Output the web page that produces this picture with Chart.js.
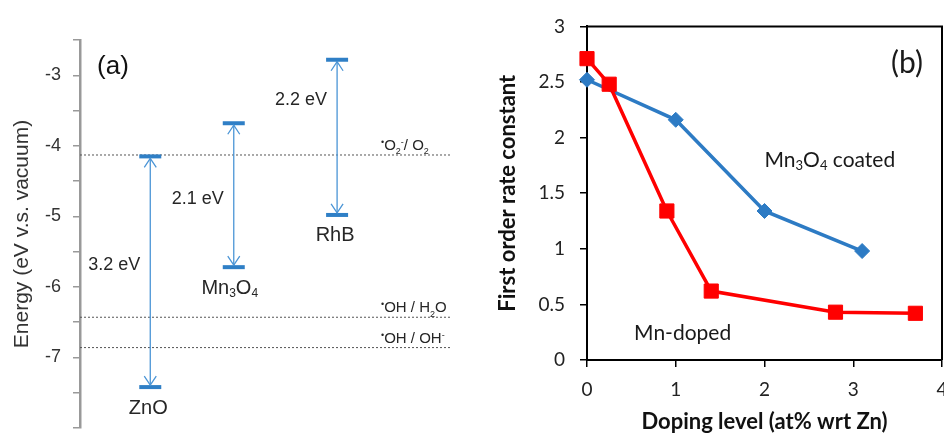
<!DOCTYPE html>
<html lang="en">
<head>
    <meta charset="UTF-8">
    <title>Band positions and rate constants</title>
    <script src="https://cdn.jsdelivr.net/npm/chart.js"></script>
    <style>
        body { margin: 0; background: #fff; }
        .wrap { position: relative; width: 944px; height: 435px; background: #fff; }
        #chartA { position: absolute; left: 0; top: 0; }
        #chartB { position: absolute; left: 480px; top: 0; }
    </style>
</head>
<body>
<div class="wrap">
    <canvas id="chartA" width="480" height="435"></canvas>
    <canvas id="chartB" width="464" height="435"></canvas>
</div>
<script>
    // ---- panel (a): band edges, eV vs vacuum ----
    const materialNames = ['ZnO', 'Mn3O4', 'RhB'];
    const materialText = [[['ZnO', 'n']], [['Mn', 'n'], ['3', 'sub'], ['O', 'n'], ['4', 'sub']], [['RhB', 'n']]];
    const materialPos = [0.85, 1.86, 3.11];
    const upperEdge = [-4.15, -3.68, -2.78];
    const lowerEdge = [-7.42, -5.72, -4.98];
    const gapLabels = ['3.2 eV', '2.1 eV', '2.2 eV'];
    const redoxLevels = [-4.13, -6.43, -6.86];
    const redoxLabels = [
        [['•', 'sup'], ['O', 'n'], ['2', 'sub'], ['-', 'sup'], ['/ O', 'n'], ['2', 'sub']],
        [['•', 'sup'], ['OH / H', 'n'], ['2', 'sub'], ['O', 'n']],
        [['•', 'sup'], ['OH / OH', 'n'], ['-', 'sup']]
    ];
    const energyTicks = [-3, -4, -5, -6, -7];

    // ---- panel (b): rate constant vs doping ----
    const coatedX = [0, 1, 2, 3.1];
    const coatedK = [2.52, 2.16, 1.34, 0.98];
    const dopedX = [0, 0.25, 0.9, 1.4, 2.8, 3.7];
    const dopedK = [2.71, 2.48, 1.34, 0.62, 0.43, 0.42];

    const fontA = '"Liberation Sans", Arial, sans-serif';
    const fontB = 'Lato, "Open Sans", sans-serif';
    const barColor = '#2f7fc6';
    const arrowColor = '#4b95d6';
    const xMinA = 0, xMaxA = 4.5;

    // text with sub/superscript pieces
    function drawRich(ctx, parts, x, y, size, align, family) {
        const small = Math.round(size * 0.62);
        let w = 0;
        parts.forEach(([t, m]) => {
            ctx.font = (m === 'n' ? size : small) + 'px ' + family;
            w += ctx.measureText(t).width;
        });
        let cx = align === 'center' ? x - w / 2 : (align === 'right' ? x - w : x);
        ctx.textAlign = 'left';
        parts.forEach(([t, m]) => {
            const s = m === 'n' ? size : small;
            ctx.font = s + 'px ' + family;
            const dy = m === 'sub' ? size * 0.3 : (m === 'sup' ? -size * 0.33 : 0);
            ctx.fillText(t, cx, y + dy);
            cx += ctx.measureText(t).width;
        });
    }

    const bandDatasets = materialPos.map((p, i) => ({
        label: materialNames[i],
        data: [{x: p, y: upperEdge[i]}, {x: p, y: lowerEdge[i]}],
        showLine: true,
        borderColor: arrowColor,
        borderWidth: 1.3,
        pointStyle: 'line',
        pointRadius: 11,
        pointBorderWidth: 4,
        pointBorderColor: barColor,
        clip: false
    }));
    const redoxDatasets = redoxLevels.map(lv => ({
        data: [{x: xMinA, y: lv}, {x: xMaxA, y: lv}],
        showLine: true,
        borderColor: '#555',
        borderWidth: 1,
        borderDash: [2, 2],
        pointRadius: 0
    }));

    const panelA = {
        id: 'panelA',
        afterDatasetsDraw(chart) {
            const ctx = chart.ctx;
            const xs = chart.scales.x, ys = chart.scales.y;
            const area = chart.chartArea;
            ctx.save();
            // arrow heads
            ctx.strokeStyle = arrowColor;
            ctx.lineWidth = 1.3;
            materialPos.forEach((p, i) => {
                const x = xs.getPixelForValue(p);
                const yt = ys.getPixelForValue(upperEdge[i]) + 2;
                const yb = ys.getPixelForValue(lowerEdge[i]) - 2;
                ctx.beginPath();
                ctx.moveTo(x - 6, yt + 9); ctx.lineTo(x, yt); ctx.lineTo(x + 6, yt + 9);
                ctx.moveTo(x - 6, yb - 9); ctx.lineTo(x, yb); ctx.lineTo(x + 6, yb - 9);
                ctx.stroke();
            });
            ctx.fillStyle = '#262626';
            ctx.textBaseline = 'middle';
            // material names
            materialPos.forEach((p, i) => {
                const x = xs.getPixelForValue(p);
                const y = ys.getPixelForValue(lowerEdge[i]) + 21;
                drawRich(ctx, materialText[i], i === 1 ? x - 4 : x - 2, y, 20, 'center', fontA);
            });
            // gap labels
            const gapAt = [0.47, 0.53, 0.26];
            materialPos.forEach((p, i) => {
                const x = xs.getPixelForValue(p);
                const yt = ys.getPixelForValue(upperEdge[i]);
                const yb = ys.getPixelForValue(lowerEdge[i]);
                ctx.font = '18px ' + fontA;
                ctx.textAlign = 'right';
                ctx.fillText(gapLabels[i], x - 10, yt + gapAt[i] * (yb - yt));
            });
            // redox couples
            ctx.textBaseline = 'alphabetic';
            redoxLevels.forEach((lv, i) => {
                const y = ys.getPixelForValue(lv) - 5;
                drawRich(ctx, redoxLabels[i], area.right - 71, y, 15, 'left', fontA);
            });
            // panel letter
            ctx.textBaseline = 'middle';
            ctx.textAlign = 'center';
            ctx.font = '26px ' + fontA;
            ctx.fillStyle = '#111';
            ctx.fillText('(a)', area.left + 33, 67);
            ctx.restore();
        }
    };

    new Chart(document.getElementById('chartA'), {
        type: 'scatter',
        data: {datasets: [...bandDatasets, ...redoxDatasets]},
        options: {
            responsive: false,
            animation: false,
            devicePixelRatio: 1,
            layout: {autoPadding: false, padding: {top: 40, right: 28, bottom: 7, left: 0}},
            plugins: {legend: {display: false}, tooltip: {enabled: false}},
            scales: {
                x: {type: 'linear', min: xMinA, max: xMaxA, display: false},
                y: {
                    min: -8, max: -2.5,
                    afterFit: s => { s.width = 80; s.paddingTop = 0; s.paddingBottom = 0; },
                    ticks: {
                        stepSize: 0.5,
                        autoSkip: false,
                        padding: 12,
                        color: '#333',
                        font: {family: fontA, size: 18},
                        callback: v => energyTicks.includes(v) ? String(v) : ''
                    },
                    grid: {drawOnChartArea: false, tickLength: 7, color: '#999', lineWidth: 1.5},
                    border: {display: true, color: '#999', width: 2.5},
                    title: {
                        display: true,
                        text: 'Energy (eV v.s. vacuum)',
                        color: '#333',
                        font: {family: fontA, size: 21},
                        padding: {top: 10, bottom: 0}
                    }
                }
            }
        },
        plugins: [panelA]
    });

    const panelB = {
        id: 'panelB',
        afterDatasetsDraw(chart) {
            const ctx = chart.ctx;
            const xs = chart.scales.x, ys = chart.scales.y;
            const a = chart.chartArea;
            ctx.save();
            ctx.strokeStyle = '#000';
            ctx.lineWidth = 2;
            ctx.beginPath();
            ctx.moveTo(a.left, a.top); ctx.lineTo(a.right, a.top); ctx.lineTo(a.right, a.bottom);
            ctx.stroke();
            ctx.fillStyle = '#1a1a1a';
            ctx.textBaseline = 'middle';
            drawRich(ctx, [['Mn', 'n'], ['3', 'sub'], ['O', 'n'], ['4', 'sub'], [' coated', 'n']],
                xs.getPixelForValue(2.0), ys.getPixelForValue(1.8), 21, 'left', fontB);
            drawRich(ctx, [['Mn-doped', 'n']], xs.getPixelForValue(0.53), ys.getPixelForValue(0.24), 21, 'left', fontB);
            ctx.textAlign = 'center';
            ctx.font = '30px ' + fontB;
            ctx.fillText('(b)', a.right - 35, a.top + 37);
            ctx.restore();
        }
    };

    new Chart(document.getElementById('chartB'), {
        type: 'scatter',
        data: {
            datasets: [
                {
                    label: 'Mn-doped',
                    data: dopedX.map((x, i) => ({x: x, y: dopedK[i]})),
                    showLine: true,
                    borderColor: '#ff0000',
                    backgroundColor: '#ff0000',
                    borderWidth: 3.5,
                    pointStyle: 'rect',
                    pointRadius: 10,
                    pointBorderWidth: 1,
                    clip: false
                },
                {
                    label: 'Mn3O4 coated',
                    data: coatedX.map((x, i) => ({x: x, y: coatedK[i]})),
                    showLine: true,
                    borderColor: '#2d7bc4',
                    backgroundColor: '#2d7bc4',
                    borderWidth: 3.5,
                    pointStyle: 'rectRot',
                    pointRadius: 7.5,
                    pointBorderWidth: 1,
                    clip: false
                }
            ]
        },
        options: {
            responsive: false,
            animation: false,
            devicePixelRatio: 1,
            layout: {autoPadding: false, padding: {top: 24, right: 2, bottom: 0, left: 0}},
            plugins: {legend: {display: false}, tooltip: {enabled: false}},
            scales: {
                x: {
                    type: 'linear', min: 0, max: 4,
                    afterFit: s => { s.height = 75; s.paddingLeft = 0; s.paddingRight = 0; },
                    ticks: {stepSize: 1, padding: 11, color: '#222', font: {family: fontB, size: 19}},
                    grid: {drawOnChartArea: false, tickLength: 7, color: '#000', lineWidth: 1.5},
                    border: {display: true, color: '#000', width: 2},
                    title: {
                        display: true,
                        text: 'Doping level (at% wrt Zn)',
                        color: '#111',
                        font: {family: fontB, size: 22, weight: 'bold'},
                        padding: {top: 0, bottom: 0}
                    }
                },
                y: {
                    min: 0, max: 3,
                    afterFit: s => { s.width = 107; },
                    ticks: {
                        stepSize: 0.5, padding: 15, color: '#222',
                        font: {family: fontB, size: 19},
                        callback: v => String(v)
                    },
                    grid: {drawOnChartArea: false, tickLength: 7, color: '#000', lineWidth: 1.5},
                    border: {display: true, color: '#000', width: 2},
                    title: {
                        display: true,
                        text: 'First order rate constant',
                        color: '#111',
                        font: {family: fontB, size: 22, weight: 'bold'},
                        padding: {top: 15, bottom: 0}
                    }
                }
            }
        },
        plugins: [panelB]
    });
</script>
</body>
</html>
